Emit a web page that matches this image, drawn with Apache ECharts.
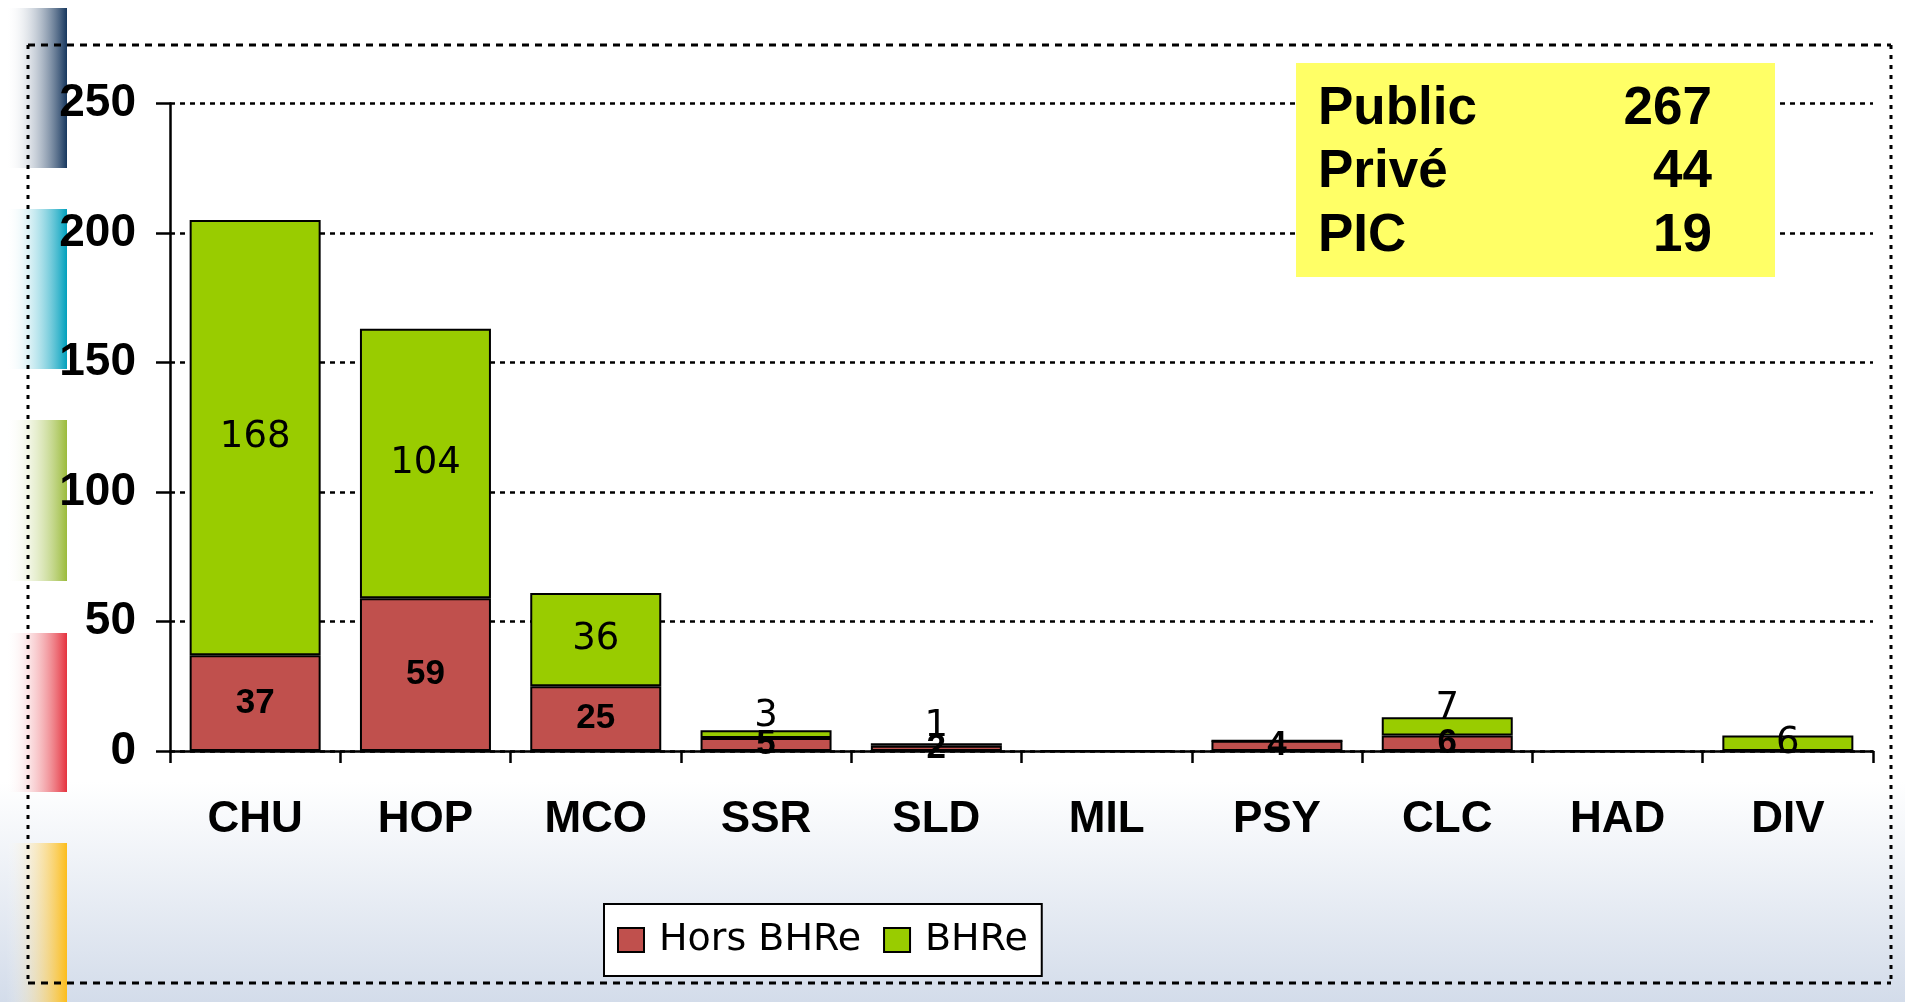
<!DOCTYPE html>
<html>
<head>
<meta charset="utf-8">
<script src="https://cdn.jsdelivr.net/npm/echarts@6/dist/echarts.min.js"></script>
<style>
html,body{margin:0;padding:0;background:#fff;}
#chart{width:1905px;height:1002px;}
</style>
</head>
<body>
<div id="chart"></div>
<script>
// ---- data ----
var categories = ['CHU','HOP','MCO','SSR','SLD','MIL','PSY','CLC','HAD','DIV'];
var horsBHRe = [37, 59, 25, 5, 2, 0, 4, 6, 0, 0];
var bhre     = [168, 104, 36, 3, 1, 0, 0, 7, 0, 6];
var seriesNames = ['Hors BHRe', 'BHRe'];
var yTicks = [0, 50, 100, 150, 200, 250];
var boxLabels = ['Public', 'Privé', 'PIC'];
var boxValues = [267, 44, 19];

// ---- chart ----
var chart = echarts.init(document.getElementById('chart'), null, {renderer: 'canvas'});

var greenData = bhre.map(function (v, i) {
  var item = {value: v};
  if (horsBHRe[i] > 0 && v < 10) { item.label = {offset: [0, -18]}; }
  return item;
});

function decoBar(y, h, color) {
  return {
    type: 'rect', z: -10, silent: true,
    shape: {x: 6, y: y, width: 61, height: h},
    style: {fill: new echarts.graphic.LinearGradient(0, 0, 1, 0, [
      {offset: 0, color: 'rgba(255,255,255,0)'},
      {offset: 1, color: color}
    ])}
  };
}

var graphics = [
  {
    type: 'rect', z: -20, silent: true,
    shape: {x: 0, y: 0, width: 1905, height: 1002},
    style: {fill: new echarts.graphic.LinearGradient(0, 0, 0, 1, [
      {offset: 0, color: '#ffffff'},
      {offset: 0.78, color: '#ffffff'},
      {offset: 1, color: '#d3dcea'}
    ])}
  },
  decoBar(8, 160, '#17375e'),
  decoBar(209, 160, '#00a0bd'),
  decoBar(420, 161, '#9bbb3b'),
  decoBar(633, 159, '#e5323e'),
  decoBar(843, 159, '#fcbd1b'),
  // dotted frame
  {type: 'line', z: -5, silent: true, shape: {x1: 28, y1: 45, x2: 1891, y2: 45}, style: {stroke: '#000', lineWidth: 3, lineDash: [7, 6]}},
  {type: 'line', z: -5, silent: true, shape: {x1: 28, y1: 983, x2: 1891, y2: 983}, style: {stroke: '#000', lineWidth: 3, lineDash: [7, 6]}},
  {type: 'line', z: -5, silent: true, shape: {x1: 28, y1: 45, x2: 28, y2: 983}, style: {stroke: '#000', lineWidth: 3, lineDash: [4, 6]}},
  {type: 'line', z: -5, silent: true, shape: {x1: 1891, y1: 45, x2: 1891, y2: 983}, style: {stroke: '#000', lineWidth: 3, lineDash: [4, 6]}},
  // yellow box
  {type: 'rect', z: 50, silent: true, shape: {x: 1296, y: 63, width: 479, height: 214}, style: {fill: '#ffff66'}}
];
boxLabels.forEach(function (lab, i) {
  var base = [136, 199, 263][i];
  graphics.push({type: 'text', z: 51, silent: true, style: {
    x: 1318, y: base, text: lab, fill: '#000',
    font: 'bold 53px "Liberation Sans", Arial, sans-serif',
    textAlign: 'left', textVerticalAlign: 'bottom'
  }});
  graphics.push({type: 'text', z: 51, silent: true, style: {
    x: 1712, y: base, text: String(boxValues[i]), fill: '#000',
    font: 'bold 53px "Liberation Sans", Arial, sans-serif',
    textAlign: 'right', textVerticalAlign: 'bottom'
  }});
});

var option = {
  animation: false,
  backgroundColor: 'transparent',
  grid: {left: 170, right: 32, top: 103.5, bottom: 251, containLabel: false},
  legend: {
    left: 604, top: 904,
    orient: 'horizontal',
    data: seriesNames,
    backgroundColor: '#ffffff',
    borderColor: '#000', borderWidth: 2,
    padding: [17, 14, 17, 13],
    itemWidth: 26, itemHeight: 24, itemGap: 22,
    icon: 'rect',
    itemStyle: {borderColor: '#000', borderWidth: 2},
    textStyle: {fontFamily: '"DejaVu Sans", Verdana, sans-serif', fontSize: 38, color: '#000', lineHeight: 36, padding: [0, 0, 0, 10]}
  },
  xAxis: {
    type: 'category',
    data: categories,
    axisLine: {show: true, lineStyle: {color: '#000', width: 2.5}},
    axisTick: {show: true, length: 12, interval: 0, lineStyle: {color: '#000', width: 2.5}},
    axisLabel: {interval: 0, margin: 47, color: '#000', fontFamily: '"Liberation Sans", Arial, sans-serif', fontWeight: 'bold', fontSize: 44, lineHeight: 44},
    splitLine: {show: false}
  },
  yAxis: {
    type: 'value',
    min: yTicks[0], max: yTicks[yTicks.length - 1], interval: yTicks[1] - yTicks[0],
    axisLine: {show: true, lineStyle: {color: '#000', width: 2.5}},
    axisTick: {show: true, length: 14, lineStyle: {color: '#000', width: 2.5}},
    axisLabel: {margin: 34, color: '#000', fontFamily: '"Liberation Sans", Arial, sans-serif', fontWeight: 'bold', fontSize: 46, lineHeight: 46, padding: [8, 0, 0, 0]},
    splitLine: {show: true, lineStyle: {color: '#000', width: 2.5, type: [5, 5]}}
  },
  series: [
    {
      name: seriesNames[0], type: 'bar', stack: 'total',
      barWidth: 131,
      data: horsBHRe,
      itemStyle: {color: '#c0504d', borderColor: '#000', borderWidth: 2},
      label: {show: true, position: 'inside', color: '#000',
        fontFamily: '"Liberation Sans", Arial, sans-serif', fontWeight: 'bold', fontSize: 35,
        formatter: function (p) { return p.value ? String(p.value) : ''; }},
      z: 2
    },
    {
      name: seriesNames[1], type: 'bar', stack: 'total',
      barWidth: 131,
      data: greenData,
      itemStyle: {color: '#99cc00', borderColor: '#000', borderWidth: 2},
      label: {show: true, position: 'inside', color: '#000',
        fontFamily: '"DejaVu Sans", Verdana, sans-serif', fontWeight: 'normal', fontSize: 37,
        formatter: function (p) { return p.value ? String(p.value) : ''; }},
      z: 2
    }
  ],
  graphic: graphics
};
chart.setOption(option);
</script>
</body>
</html>
